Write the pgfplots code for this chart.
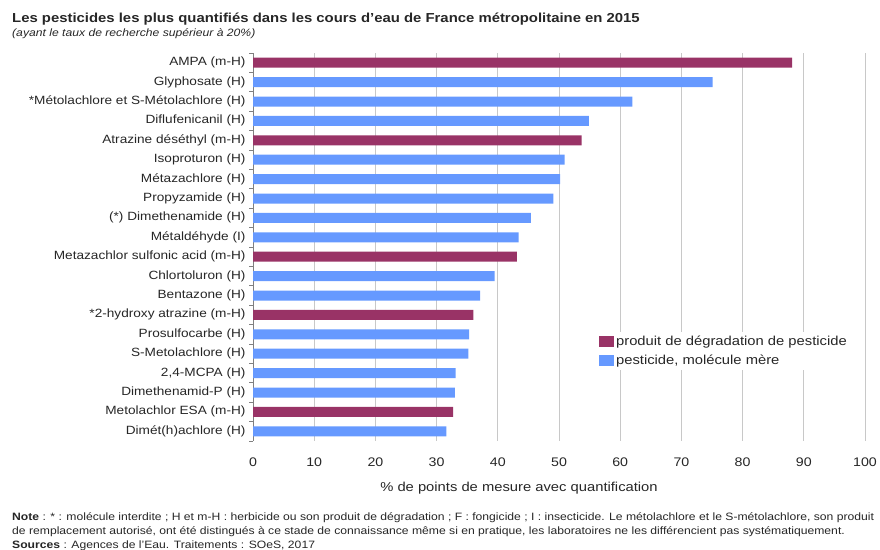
\documentclass[border=0pt]{standalone}
\usepackage{pgfplots}
\pgfplotsset{compat=1.18}
\usepackage{fontspec}
\setmainfont{Liberation Sans}[FakeStretch=1.14]
\definecolor{pur}{HTML}{993366}
\definecolor{blu}{HTML}{6699FF}
\definecolor{grd}{HTML}{C8C8C8}
\definecolor{txt}{HTML}{262626}
\pgfplotsset{sq/.style={legend image code/.code={\fill[#1] (0bp,-5.5bp) rectangle (15bp,5.5bp);}}}
\begin{document}
\begin{tikzpicture}
\useasboundingbox (0bp,0bp) rectangle (880bp,550bp);
\node[anchor=base west, font=\bfseries\fontsize{13.1}{16}\selectfont, text=txt, inner sep=0] at (12bp,527bp) {Les pesticides les plus quantifiés dans les cours d'eau de France métropolitaine en 2015};
\node[anchor=base west, font=\itshape\fontsize{10.7}{12}\selectfont, text=txt, inner sep=0] at (12bp,513bp) {(ayant le taux de recherche supérieur à 20\%)};
\begin{axis}[
 at={(253bp,109bp)}, anchor=south west,
 scale only axis, width=612bp, height=388bp,
 xbar, bar width=10bp,
 xmin=0, xmax=100, ymin=-0.5, ymax=19.5, y dir=reverse,
 xtick={0,10,...,100},
 ytick={0,...,19},
 yticklabels={AMPA (m-H),Glyphosate (H),*Métolachlore et S-Métolachlore (H),Diflufenicanil (H),Atrazine déséthyl (m-H),Isoproturon (H),Métazachlore (H),Propyzamide (H),(*) Dimethenamide (H),Métaldéhyde (I),Metazachlor sulfonic acid (m-H),Chlortoluron (H),Bentazone (H),*2-hydroxy atrazine (m-H),Prosulfocarbe (H),S-Metolachlore (H),{2,4-MCPA (H)},Dimethenamid-P (H),Metolachlor ESA (m-H),Dimét(h)achlore (H)},
 minor ytick={-0.5,0.5,...,19.5},
 axis y line*=left, axis x line*=bottom,
 x axis line style={draw=none},
 y axis line style={draw=gray, line width=0.8bp},
 tick align=outside,
 major tick length=0pt, minor tick length=4bp,
 minor tick style={gray, line width=0.8bp},
 xmajorgrids=true, grid style={grd, line width=0.9bp},
 /pgf/number format/assume math mode=true,
 yticklabel style={font=\fontsize{12}{14}\selectfont, text=txt, xshift=-4bp},
 xticklabel style={font=\fontsize{12.5}{15}\selectfont, text=txt, yshift=-13bp},
 xlabel={\% de points de mesure avec quantification},
 xlabel style={font=\fontsize{13}{15}\selectfont, text=txt, yshift=-9bp, xshift=-40bp},
 legend style={at={(0.562,0.281)}, anchor=north west, draw=none, fill=white,
   font=\fontsize{13}{15}\selectfont, text=txt, row sep=3.5bp,
   legend cell align=left, inner sep=2bp},
]
\addplot[draw=none, fill=pur, bar shift=0pt, sq] coordinates {(88.1,0) (53.7,4) (43.1,10) (36.0,13) (32.7,18)};
\addlegendentry{produit de dégradation de pesticide}
\addplot[draw=none, fill=blu, bar shift=0pt, sq] coordinates {(75.1,1) (62.0,2) (54.9,3) (50.9,5) (50.2,6) (49.1,7) (45.4,8) (43.4,9) (39.5,11) (37.1,12) (35.3,14) (35.2,15) (33.1,16) (33.0,17) (31.6,19)};
\addlegendentry{pesticide, molécule mère}
\end{axis}
\begin{scope}[every node/.style={anchor=base west, inner sep=0, font=\fontsize{10.7}{12}\selectfont, text=txt}]
\node at (12bp,30bp) {\textbf{Note} : * : molécule interdite ; H et m-H : herbicide ou son produit de dégradation ; F : fongicide ; I : insecticide. Le métolachlore et le S-métolachlore, son produit};
\node at (12bp,16bp) {de remplacement autorisé, ont été distingués à ce stade de connaissance même si en pratique, les laboratoires ne les différencient pas systématiquement.};
\node at (12bp,2bp) {\textbf{Sources} : Agences de l'Eau. Traitements : SOeS, 2017};
\end{scope}
\end{tikzpicture}
\end{document}
